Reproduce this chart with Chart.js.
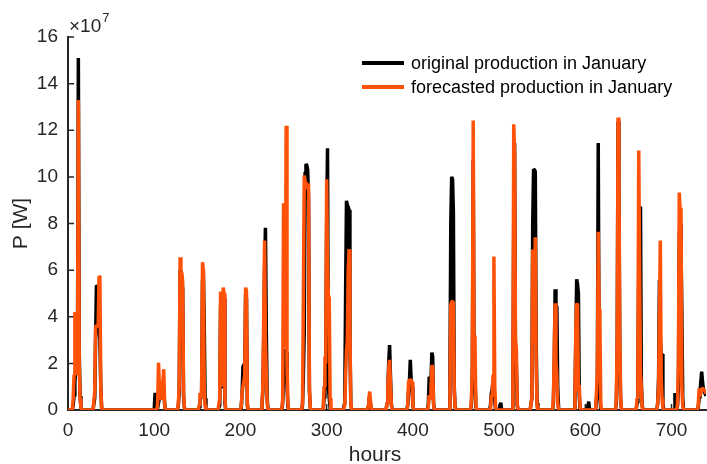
<!DOCTYPE html>
<html>
<head>
<meta charset="utf-8">
<title>January production</title>
<script src="https://cdn.jsdelivr.net/npm/chart.js@4.4.1/dist/chart.umd.min.js"></script>
<style>
  html, body { margin: 0; padding: 0; background: #ffffff; }
  canvas { display: block; }
</style>
</head>
<body>
<canvas id="chart" width="707" height="464"></canvas>
<script>
// Hourly PV power for January, in units of 1e7 W.
// Each row is one day; its values start at FIRST_HOUR of that day, every other hour is 0.
const FIRST_HOUR = 3;
const HOURS_IN_MONTH = 744;

const originalByDay = [
  [0,0,0,0.2,0.6,1.2,1.8,2.0,2.0,15.1,2.5,0.6,0.1],
  [0,0,0,0,0.5,3.0,5.35,5.3,3.5,3.4,3.0,1.0,0.1],
  [],
  [],
  [0,0,0.74,0,0,0.1,0.3,0.5,0.57,0.5,0.6,0.8,1.0,0.3],
  [0,0,0,0,0,0.2,0.8,6.0,5.8,5.5,5.2,0.6,0.1],
  [0,0,0,0,0,0.1,0.4,0.5,0.8,5.5,6.0,3.7,0.5],
  [0,0,0,0,0,0.2,4.5,1.0,0.95,5.0,4.8,0.3],
  [0,0,0,0,0,0,0.1,0.8,1.9,2.0,1.5,5.0,4.8,0.2],
  [0,0,0,0,0,0,0.2,0.8,3.0,6.0,7.82,3.43,0.5],
  [0,0,0,0,0,0,0.3,1.5,2.5,2.6,2.5,1.0,0.2],
  [0,0,0,0,0,0.2,1.5,3.3,10.2,10.55,10.5,10.3,9.0,0.8,0.1],
  [0,0,0,0,0,0,0.5,1.0,2.0,8.0,11.23,1.0,0.5,0.1],
  [0,0,0,0,0,0,0.3,5.0,8.97,8.8,8.7,8.58,3.0,0.3],
  [0,0,0,0,0,0,0,0,0,0.1,0.4,0.6,0.2],
  [0,0,0,0,0,0,0,0.3,1.0,2.0,2.79,1.5,0.3],
  [0,0,0,0,0,0,0,0.2,0.8,1.2,2.15,1.3,1.0,0.2],
  [0,0,0,0,0,0,0,0.3,1.43,0.9,1.2,2.46,2.3,0.3],
  [0,0,0,0,0,0,0,0,1.5,8.0,10.0,9.9,8.5,1.0,0.1],
  [0,0,0,0,0,0,0,0,0,0.3,1.5,10.73,1.6,1.5,0.2],
  [0,0,0,0,0,0,0,0.2,0.7,0.9,1.2,1.0,0.4,0,0,0,0,0,0,0.31],
  [0,0,0,0,0,0,0,0,0,0.3,8.0,11.45,2.07,2.0,0.2],
  [0,0,0,0,0,0,0,0.5,7.94,10.33,10.3,10.23,3.0,0.3],
  [0,0,0,0,0,0,0,0,0.3,2.0,5.18,4.5,4.43,1.0,0.1],
  [0,0,0,0,0,0,0,0,0,0.5,3.0,5.61,5.4,5.0,0.6],
  [0,0.36,0,0,0,0,0,0,0,0,0.5,1.2,11.45,2.0,0.5],
  [0,0,0,0,0,0,0,0,0,0.3,2.5,12.37,9.5,2.5,0.4],
  [0,0,0,0,0,0,0,0,0,0.3,1.5,6.0,6.0,8.73,1.2,0.2],
  [0,0,0,0,0,0,0,0,0,0.3,1.36,5.58,3.0,2.43,2.4,0.3],
  [0,0,0,0,0,0.73,0,0,0.2,1.0,7.5,8.0,7.0,4.18,0.5],
  [0,0,0,0,0,0,0,0,0.1,0.5,0.8,1.2,1.64,1.2,0.9,0.8,0.7,0.6]
];

const forecastByDay = [
  [0,0,0,0.5,1.5,4.2,4.0,1.5,1.8,13.3,2.0,0.5,0.1],
  [0,0,0,0,0.8,3.6,3.6,3.6,3.6,5.75,5.7,1.0,0.1],
  [],
  [],
  [0,0,0,0,0,0.3,2.03,1.0,0.5,0.5,0.8,1.2,1.75,0.3],
  [0,0,0,0,0,0.3,1.0,6.55,5.9,5.89,5.5,0.8,0.1],
  [0,0,0,0,0,0.2,0.73,0.5,0.8,6.34,6.0,0.8,0.2],
  [0,0,0,0,0,0.5,5.08,2.0,1.0,5.25,5.0,0.5],
  [0,0,0,0,0,0,0.2,0.8,1.0,1.0,1.5,5.25,5.1,0.3],
  [0,0,0,0,0,0,0.3,1.0,4.0,7.27,3.0,1.5,0.3],
  [0,0,0,0,0,0,0.5,8.87,3.0,2.7,12.19,2.0,0.3],
  [0,0,0,0,0,0.3,4.8,10.06,9.8,9.7,9.6,9.5,9.73,1.0,0.1],
  [0,0,0,0,0,0,1.0,2.29,2.0,9.9,6.0,4.94,4.8,0.5],
  [0,0,0,0,0,0,0.2,1.5,2.5,3.0,6.0,6.9,3.4,0.3],
  [0,0,0,0,0,0,0,0,0,0.2,0.5,0.79,0.3],
  [0,0,0,0,0,0,0,0.3,1.0,1.8,2.15,1.2,0.2],
  [0,0,0,0,0,0,0,0.2,1.2,1.29,1.29,1.29,1.2,0.2],
  [0,0,0,0,0,0,0,0.2,0.64,0.5,0.9,1.93,1.8,0.2],
  [0,0,0,0,0,0,0,0,0.8,4.5,4.65,4.65,4.6,0.8,0.1],
  [0,0,0,0,0,0,0,0,0,0.5,2.0,12.42,1.5,3.2,0.3],
  [0,0,0,0,0,0,0,0,0.64,0.6,1.5,6.58,1.0,0.1],
  [0,0,0,0,0,0,0,0,0,0.5,12.26,11.0,3.0,2.65,0.3],
  [0,0,0,0,0,0,0,0.5,6.87,6.8,2.87,7.41,2.0,0.2],
  [0,0,0,0,0,0,0,0,0.5,2.5,4.58,2.15,1.5,0.3],
  [0,0,0,0,0,0,0,0,0,0.5,3.5,4.58,4.5,0.8,1.07,0.1],
  [0,0,0,0,0,0,0,0,0,0,0.8,1.72,7.65,4.32,3.5,0.2],
  [0,0,0,0,0,0,0,0,0,0.5,3.0,12.55,10.16,3.0,0.5],
  [0,0,0,0,0,0,0,0,0,0.5,2.0,11.13,5.94,1.57,1.0,0.1],
  [0,0,0,0,0,0,0,0,0,0.3,1.0,4.0,7.27,1.5,0.5,0.1],
  [0,0,0,0,0,0,0,0,0.3,2.0,9.33,8.5,8.68,1.0,0.2],
  [0,0,0,0,0,0,0,0,0.2,0.93,0.6,0.7,0.9,0.93,0.9,0.85,0.8,0.7]
];

const seriesLabels = ['original production in January', 'forecasted production in January'];
const xTickValues = [0, 100, 200, 300, 400, 500, 600, 700];
const yTickValues = [0, 2, 4, 6, 8, 10, 12, 14, 16];
const xTitle = 'hours';
const yTitle = 'P [W]';
const yExponent = '7';

const AXIS_COLOR = '#262626';
const FONT = '"Liberation Sans", Arial, sans-serif';

// Lay the daily rows out on the hourly time axis.
function toHourly(days) {
  const out = new Array(HOURS_IN_MONTH).fill(0);
  days.forEach((row, d) => row.forEach((v, i) => { out[d * 24 + FIRST_HOUR + i] = v; }));
  return out.map((v, h) => ({ x: h, y: v }));
}

// Inward tick marks on the left and bottom axes.
const innerTicks = {
  id: 'innerTicks',
  beforeDatasetsDraw(chart) {
    const { ctx, chartArea: a, scales: { x, y } } = chart;
    const len = 6;
    ctx.save();
    ctx.strokeStyle = AXIS_COLOR;
    ctx.lineWidth = 1.5;
    ctx.beginPath();
    x.ticks.forEach(t => {
      const px = x.getPixelForValue(t.value);
      ctx.moveTo(px, a.bottom);
      ctx.lineTo(px, a.bottom - len);
    });
    y.ticks.forEach(t => {
      const py = y.getPixelForValue(t.value);
      ctx.moveTo(a.left, py);
      ctx.lineTo(a.left + len, py);
    });
    ctx.stroke();
    ctx.restore();
  }
};

// Exponent multiplier above the y axis and the x axis caption.
const axisText = {
  id: 'axisText',
  afterDraw(chart) {
    const { ctx, chartArea: a } = chart;
    ctx.save();
    ctx.fillStyle = AXIS_COLOR;
    ctx.textBaseline = 'alphabetic';
    ctx.textAlign = 'left';
    ctx.font = '19px ' + FONT;
    const base = '\u00d710';
    const x0 = a.left + 1;
    ctx.fillText(base, x0, a.top - 5);
    const w = ctx.measureText(base).width;
    ctx.font = '13px ' + FONT;
    ctx.fillText(yExponent, x0 + w + 1, a.top - 15);

    ctx.font = '21px ' + FONT;
    ctx.textAlign = 'center';
    ctx.fillText(xTitle, a.left + 307, 461);
    ctx.restore();
  }
};

// Legend inside the plot, top right, without a frame.
const insideLegend = {
  id: 'insideLegend',
  afterDatasetsDraw(chart) {
    const { ctx, chartArea: a } = chart;
    const x0 = a.left + 294, lineLen = 42, rowH = 24, y0 = a.top + 26;
    ctx.save();
    ctx.font = '18px ' + FONT;
    ctx.textBaseline = 'middle';
    ctx.textAlign = 'left';
    chart.data.datasets.forEach((ds, i) => {
      const y = y0 + i * rowH;
      ctx.strokeStyle = ds.borderColor;
      ctx.lineWidth = 4;
      ctx.beginPath();
      ctx.moveTo(x0, y);
      ctx.lineTo(x0 + lineLen, y);
      ctx.stroke();
      ctx.fillStyle = '#000000';
      ctx.fillText(ds.label, x0 + lineLen + 7, y + 1);
    });
    ctx.restore();
  }
};

new Chart(document.getElementById('chart'), {
  type: 'line',
  data: {
    datasets: [
      {
        label: seriesLabels[0],
        data: toHourly(originalByDay),
        borderColor: '#000000',
        borderWidth: 3.5,
        order: 2
      },
      {
        label: seriesLabels[1],
        data: toHourly(forecastByDay),
        borderColor: '#ff5208',
        borderWidth: 3.5,
        order: 1
      }
    ]
  },
  options: {
    responsive: false,
    animation: false,
    devicePixelRatio: 1,
    parsing: false,
    normalized: true,
    elements: {
      point: { radius: 0, hoverRadius: 0 },
      line: { tension: 0, borderJoinStyle: 'bevel', fill: false }
    },
    layout: { padding: { left: 0, right: 1, top: 37, bottom: 0 } },
    plugins: {
      legend: { display: false },
      tooltip: { enabled: false }
    },
    scales: {
      x: {
        type: 'linear',
        min: 0,
        max: 740,
        afterBuildTicks: s => { s.ticks = xTickValues.map(v => ({ value: v })); },
        afterFit: s => { s.height = 54; },
        grid: { display: false, drawTicks: false },
        border: { display: true, color: AXIS_COLOR, width: 2 },
        ticks: {
          color: AXIS_COLOR,
          font: { family: FONT, size: 19 },
          padding: 9,
          maxRotation: 0
        },
        title: { display: false }
      },
      y: {
        type: 'linear',
        min: 0,
        max: 16,
        afterBuildTicks: s => { s.ticks = yTickValues.map(v => ({ value: v })); },
        afterFit: s => { s.width = 68; },
        grid: { display: false, drawTicks: false },
        border: { display: true, color: AXIS_COLOR, width: 2 },
        ticks: {
          color: AXIS_COLOR,
          font: { family: FONT, size: 19 },
          padding: 10
        },
        title: {
          display: true,
          text: yTitle,
          color: AXIS_COLOR,
          font: { family: FONT, size: 21 },
          padding: { top: 9, bottom: 0 }
        }
      }
    }
  },
  plugins: [innerTicks, insideLegend, axisText]
});
</script>
</body>
</html>
